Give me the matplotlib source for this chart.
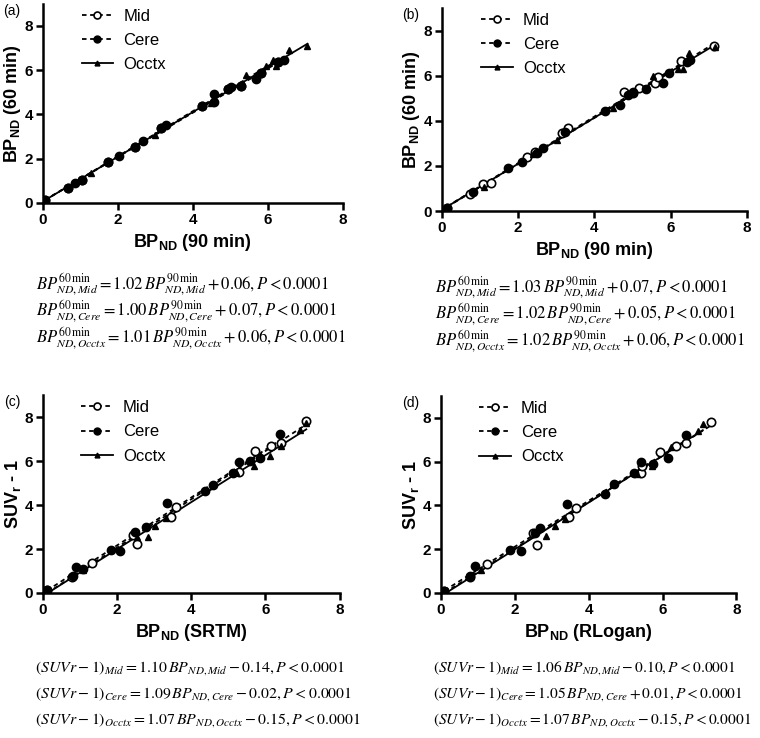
import matplotlib
matplotlib.use("Agg")
import matplotlib.pyplot as plt
import numpy as np

plt.rcParams['font.family'] = ['Liberation Sans', 'DejaVu Sans']
# axis labels use sans mathtext, the equations use stix
plt.rcParams['mathtext.fontset'] = 'custom'
plt.rcParams['mathtext.rm'] = 'Liberation Sans'
plt.rcParams['mathtext.bf'] = 'Liberation Sans:bold'
plt.rcParams['mathtext.it'] = 'Liberation Sans:italic'

regions = ['Mid', 'Cere', 'Occtx']

# (a) BPnd 60 min vs 90 min (SRTM)
a_mid_x = [0.06, 0.68, 1.04, 1.75, 2.47, 3.16, 4.25, 4.94, 5.29, 5.82, 6.27]
a_mid_y = [0.14, 0.69, 1.04, 1.84, 2.52, 3.38, 4.36, 5.14, 5.29, 5.87, 6.35]
a_cere_x = [0.06, 0.68, 0.86, 1.04, 1.75, 2.04, 2.47, 2.68, 3.16, 3.28, 4.25,
            4.56, 4.58, 4.94, 5.01, 5.29, 5.69, 5.82, 6.27, 6.44]
a_cere_y = [0.14, 0.69, 0.89, 1.04, 1.84, 2.10, 2.52, 2.82, 3.38, 3.51, 4.36,
            4.58, 4.92, 5.14, 5.24, 5.29, 5.60, 5.87, 6.35, 6.44]
a_occ_x = [0.06, 1.08, 1.30, 2.99, 4.49, 5.43, 5.96, 6.13, 6.22, 6.58, 7.06]
a_occ_y = [0.14, 1.07, 1.34, 3.08, 4.51, 5.79, 6.17, 6.44, 6.17, 6.92, 7.07]
a_slope = [1.02, 1.00, 1.01]
a_icpt = [0.06, 0.07, 0.06]

# (b) BPnd 60 min vs 90 min (RLogan)
b_mid_x = [0.13, 0.73, 1.07, 1.28, 2.24, 2.44, 3.14, 3.32, 4.78, 5.02, 5.18,
           5.59, 5.68, 6.27, 7.14]
b_mid_y = [0.12, 0.76, 1.20, 1.26, 2.41, 2.64, 3.48, 3.67, 5.26, 5.23, 5.45,
           5.70, 5.94, 6.64, 7.30]
b_cere_x = [0.13, 0.82, 1.74, 2.09, 2.49, 2.66, 3.23, 4.28, 4.67, 4.89, 5.02,
            5.35, 5.81, 5.97, 6.42, 6.51]
b_cere_y = [0.12, 0.86, 1.90, 2.16, 2.56, 2.79, 3.52, 4.44, 4.71, 5.16, 5.26,
            5.41, 5.70, 6.12, 6.59, 6.68]
b_occ_x = [0.13, 1.10, 2.40, 3.01, 4.50, 5.55, 6.20, 6.33, 6.49, 7.17]
b_occ_y = [0.12, 1.05, 2.55, 3.13, 4.56, 6.00, 6.30, 6.30, 7.01, 7.27]
b_slope = [1.03, 1.02, 1.02]
b_icpt = [0.07, 0.05, 0.06]

# (c) SUVr-1 vs BPnd (SRTM)
c_mid_x = [0.12, 0.80, 1.33, 2.44, 2.54, 3.47, 3.60, 5.30, 5.71, 6.16, 6.42, 7.08]
c_mid_y = [0.13, 0.75, 1.35, 2.65, 2.24, 3.48, 3.90, 5.49, 6.45, 6.71, 6.83, 7.82]
c_cere_x = [0.12, 0.82, 0.90, 1.10, 1.83, 2.08, 2.48, 2.78, 3.35, 4.36, 4.59,
            5.12, 5.29, 5.59, 5.86, 6.40]
c_cere_y = [0.13, 0.78, 1.20, 1.10, 1.96, 1.92, 2.77, 2.98, 4.10, 4.63, 4.93,
            5.46, 5.95, 6.00, 6.15, 7.25]
c_occ_x = [0.12, 1.10, 2.55, 2.84, 3.02, 3.33, 5.20, 5.69, 6.11, 6.42, 6.92, 7.10]
c_occ_y = [0.13, 1.05, 2.55, 2.57, 3.06, 3.41, 5.49, 5.77, 6.22, 6.70, 7.41, 7.75]
c_slope = [1.10, 1.09, 1.07]
c_icpt = [-0.14, -0.02, -0.15]

# (d) SUVr-1 vs BPnd (RLogan)
d_mid_x = [0.10, 0.80, 1.24, 2.50, 2.61, 3.47, 3.67, 5.42, 5.45, 5.92, 6.37, 6.64, 7.32]
d_mid_y = [0.10, 0.75, 1.32, 2.75, 2.21, 3.48, 3.89, 5.47, 5.81, 6.45, 6.73, 6.84, 7.83]
d_cere_x = [0.10, 0.80, 0.92, 1.86, 2.16, 2.54, 2.68, 3.42, 4.43, 4.70, 5.24,
            5.42, 5.74, 6.14, 6.64]
d_cere_y = [0.10, 0.78, 1.21, 1.98, 1.90, 2.74, 2.97, 4.08, 4.54, 4.97, 5.47,
            5.99, 5.89, 6.15, 7.23]
d_occ_x = [0.10, 1.10, 2.86, 3.08, 3.35, 5.30, 5.72, 6.23, 6.95, 7.09]
d_occ_y = [0.10, 1.05, 2.59, 3.08, 3.40, 5.45, 5.80, 6.68, 7.39, 7.72]
d_slope = [1.06, 1.05, 1.07]
d_icpt = [-0.10, 0.01, -0.15]

styles = {
    'Mid': dict(marker='o', mfc='white', mec='black', ms=6, mew=1.2, ls=(0, (2.5, 2))),
    'Cere': dict(marker='o', mfc='black', mec='black', ms=6, mew=1.0, ls=(0, (2.5, 2))),
    'Occtx': dict(marker='^', mfc='black', mec='black', ms=4.5, mew=1.0, ls='-'),
}


def draw_panel(ax, data, slopes, icpts, xlabel, ylabel, letter):
    for name, (xs, ys), k, b in zip(regions, data, slopes, icpts):
        st = styles[name]
        ax.plot(xs, ys, ls='none', marker=st['marker'], mfc=st['mfc'],
                mec=st['mec'], ms=st['ms'], mew=st['mew'], zorder=3)
        xs_line = np.array([min(xs), max(xs)])
        ax.plot(xs_line, k * xs_line + b, color='black', ls=st['ls'], lw=1.3, zorder=2)
    # legend handles
    handles = []
    for name in regions:
        st = styles[name]
        h, = ax.plot([], [], color='black', ls=st['ls'], lw=1.3, marker=st['marker'],
                     mfc=st['mfc'], mec=st['mec'], ms=st['ms'] - 1, mew=st['mew'])
        handles.append(h)
    ax.legend(handles, regions, loc='upper left', bbox_to_anchor=(0.08, 1.05),
              frameon=False, fontsize=12, handlelength=1.9, handletextpad=0.6,
              labelspacing=0.55)
    ax.set_xlim(0, 8)
    ax.set_ylim(0, 9)
    ax.set_xticks([0, 2, 4, 6, 8])
    ax.set_yticks([0, 2, 4, 6, 8])
    for s in ['top', 'right']:
        ax.spines[s].set_visible(False)
    for s in ['left', 'bottom']:
        ax.spines[s].set_linewidth(1.8)
    ax.tick_params(direction='out', length=5, width=1.8, labelsize=11, pad=2)
    for lab in ax.get_xticklabels() + ax.get_yticklabels():
        lab.set_fontweight('bold')
    ax.set_xlabel(xlabel, fontsize=13, fontweight='bold', labelpad=4)
    ax.set_ylabel(ylabel, fontsize=13, fontweight='bold', labelpad=1)
    ax.text(-0.13, 1.0, letter, transform=ax.transAxes, fontsize=10, va='top')


fig = plt.figure(figsize=(7.6, 7.38), dpi=100)
ax_a = fig.add_axes([0.056, 0.725, 0.395, 0.270])
ax_b = fig.add_axes([0.5816, 0.714, 0.401, 0.275])
ax_c = fig.add_axes([0.056, 0.1965, 0.391, 0.268])
ax_d = fig.add_axes([0.580, 0.1965, 0.389, 0.267])

bp60 = r'BP$_{\mathbf{ND}}$ (60 min)'
suv = r'SUV$_{\mathbf{r}}$ - 1'
draw_panel(ax_a, [(a_mid_x, a_mid_y), (a_cere_x, a_cere_y), (a_occ_x, a_occ_y)],
           a_slope, a_icpt, r'BP$_{\mathbf{ND}}$ (90 min)', bp60, '(a)')
draw_panel(ax_b, [(b_mid_x, b_mid_y), (b_cere_x, b_cere_y), (b_occ_x, b_occ_y)],
           b_slope, b_icpt, r'BP$_{\mathbf{ND}}$ (90 min)', bp60, '(b)')
draw_panel(ax_c, [(c_mid_x, c_mid_y), (c_cere_x, c_cere_y), (c_occ_x, c_occ_y)],
           c_slope, c_icpt, r'BP$_{\mathbf{ND}}$ (SRTM)', suv, '(c)')
draw_panel(ax_d, [(d_mid_x, d_mid_y), (d_cere_x, d_cere_y), (d_occ_x, d_occ_y)],
           d_slope, d_icpt, r'BP$_{\mathbf{ND}}$ (RLogan)', suv, '(d)')


def sgn(v):
    return '+' if v >= 0 else '-'


def eq_time(name, k, b):
    return (r'$BP^{60\,\mathrm{min}}_{ND,%s} = %.2f\,BP^{90\,\mathrm{min}}_{ND,%s} %s %.2f, P < 0.0001$'
            % (name, k, name, sgn(b), abs(b)))


def eq_suv(name, k, b):
    return (r'$(SUVr - 1)_{%s} = %.2f\,BP_{ND,%s} %s %.2f, P < 0.0001$'
            % (name, k, name, sgn(b), abs(b)))


eq_rows_top = [0.615, 0.578, 0.541]
eq_rows_bot = [0.095, 0.060, 0.025]
eq_kw = dict(va='center', math_fontfamily='stix')
for i, name in enumerate(regions):
    fig.text(0.047, eq_rows_top[i], eq_time(name, a_slope[i], a_icpt[i]), fontsize=12, **eq_kw)
    fig.text(0.572, eq_rows_top[i] - 0.004, eq_time(name, b_slope[i], b_icpt[i]), fontsize=12, **eq_kw)
    fig.text(0.046, eq_rows_bot[i], eq_suv(name, c_slope[i], c_icpt[i]), fontsize=11.4, **eq_kw)
    fig.text(0.570, eq_rows_bot[i], eq_suv(name, d_slope[i], d_icpt[i]), fontsize=11.2, **eq_kw)

fig.savefig('out.png', dpi=100)
